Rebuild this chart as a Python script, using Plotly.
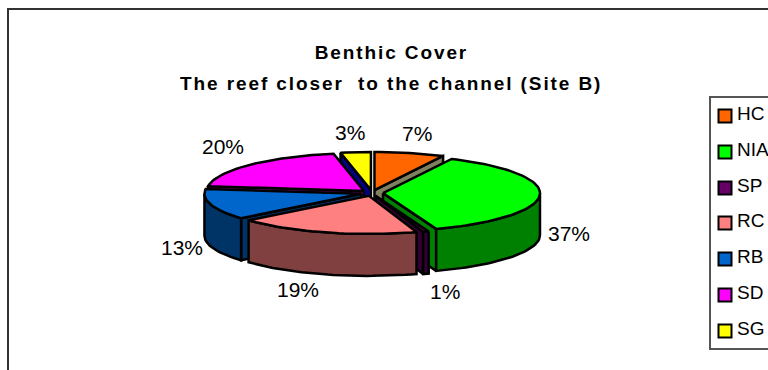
import math
import plotly.graph_objects as go

categories = ["HC", "NIA", "SP", "RC", "RB", "SD", "SG"]
percentages = [7.2, 37.3, 0.6, 18.8, 13.1, 19.9, 3.1]
top_colors = ["#ff6600", "#00ff00", "#660066", "#ff8080", "#0066cc", "#ff00ff", "#ffff00"]
rim_colors = ["#804000", "#008000", "#330033", "#804040", "#003366", "#800080", "#808000"]
cut_colors = ["#808060", "#008000", "#330033", "#804040", "#003366", "#800080", "#000080"]
title_lines = ["Benthic Cover", "The reef closer  to the channel (Site B)"]

# pie geometry, in axis units (the axes map 1:1 to the page)
CX, CY, RX, RY, DEPTH, EXPLODE_X, EXPLODE_Y = 372, 193, 157, 38, 42, 11, 3
LABEL_POS = {"HC": (417, 133), "NIA": (569, 233), "SP": (445, 291), "RC": (298, 289),
             "RB": (182, 247), "SD": (223, 146), "SG": (350, 132)}
DRAW_ORDER = ["SG", "SD", "HC", "NIA", "RB", "SP", "RC"]

fig = go.Figure()


def arc(cx, cy, a0, a1):
    n = max(2, int(abs(a1 - a0) / 2) + 1)
    pts = [a0 + (a1 - a0) * i / (n - 1) for i in range(n)]
    return ([cx + RX * math.sin(math.radians(a)) for a in pts],
            [cy - RY * math.cos(math.radians(a)) for a in pts])


def poly(xs, ys, color):
    fig.add_trace(go.Scatter(x=xs + xs[:1], y=ys + ys[:1], mode="lines", fill="toself",
                             fillcolor=color, line=dict(color="black", width=2.5),
                             hoverinfo="skip", showlegend=False))


total = sum(percentages)
spans = {}
running = 0
for name, pct in zip(categories, percentages):
    spans[name] = (running / total * 360, (running + pct) / total * 360)
    running += pct

for name in DRAW_ORDER:
    i = categories.index(name)
    a0, a1 = spans[name]
    mid = math.radians((a0 + a1) / 2)
    cx = CX + EXPLODE_X * math.sin(mid)
    cy = CY - EXPLODE_Y * math.cos(mid)
    # cut faces
    for a, visible in ((a0, math.sin(math.radians(a0)) < 0), (a1, math.sin(math.radians(a1)) > 0)):
        if visible:
            rx = cx + RX * math.sin(math.radians(a))
            ry = cy - RY * math.cos(math.radians(a))
            poly([cx, rx, rx, cx], [cy, ry, ry + DEPTH, cy + DEPTH], cut_colors[i])
    # outer rim, front half only
    f0, f1 = max(a0, 90), min(a1, 270)
    if f1 > f0:
        xs, ys = arc(cx, cy, f0, f1)
        poly(xs + xs[::-1], ys + [y + DEPTH for y in ys[::-1]], rim_colors[i])
    # top face
    xs, ys = arc(cx, cy, a0, a1)
    poly([cx] + xs, [cy] + ys, top_colors[i])

# legend
legend_rows = [116, 152, 188, 223, 259, 295, 331]
fig.add_trace(go.Scatter(
    x=[725] * len(categories), y=legend_rows, mode="markers",
    marker=dict(symbol="square", size=13, color=top_colors, line=dict(color="black", width=2)),
    hoverinfo="skip", showlegend=False))
fig.add_trace(go.Scatter(
    x=[737] * len(categories), y=[r - 0.5 for r in legend_rows], mode="text",
    text=categories, textposition="middle right",
    textfont=dict(family="Liberation Sans", size=19, color="black"),
    hoverinfo="skip", showlegend=False))

annotations = []
for name, pct in zip(categories, percentages):
    lx, ly = LABEL_POS[name]
    annotations.append(dict(x=lx, y=ly, text=f"{round(pct)}%", showarrow=False, xref="x", yref="y",
                            font=dict(family="Liberation Sans", size=21, color="black")))
for line, ty in zip(title_lines, (52, 83)):
    annotations.append(dict(x=391, y=ty, text=f"<b>{line}</b>", showarrow=False, xref="x", yref="y",
                            font=dict(family="Liberation Sans", size=19, color="black")))

fig.update_layout(
    width=768, height=370, margin=dict(l=0, r=0, t=0, b=0),
    paper_bgcolor="white", plot_bgcolor="white", showlegend=False,
    xaxis=dict(range=[0, 768], visible=False, fixedrange=True),
    yaxis=dict(range=[370, 0], visible=False, fixedrange=True),
    annotations=annotations,
    shapes=[
        dict(type="rect", x0=8, y0=9, x1=900, y1=500, line=dict(color="#333333", width=2), layer="below"),
        dict(type="rect", x0=710, y0=97, x1=900, y1=349, line=dict(color="#555555", width=2), layer="below"),
    ],
)

fig.write_html("out.html", config={"displayModeBar": False},
               post_script="""document.body.style.margin='0';document.body.style.overflow='hidden';
document.querySelectorAll('.annotation-text').forEach(function(t){
  if (t.textContent.length > 5) { t.style.letterSpacing = '1.9px'; }
});""")
